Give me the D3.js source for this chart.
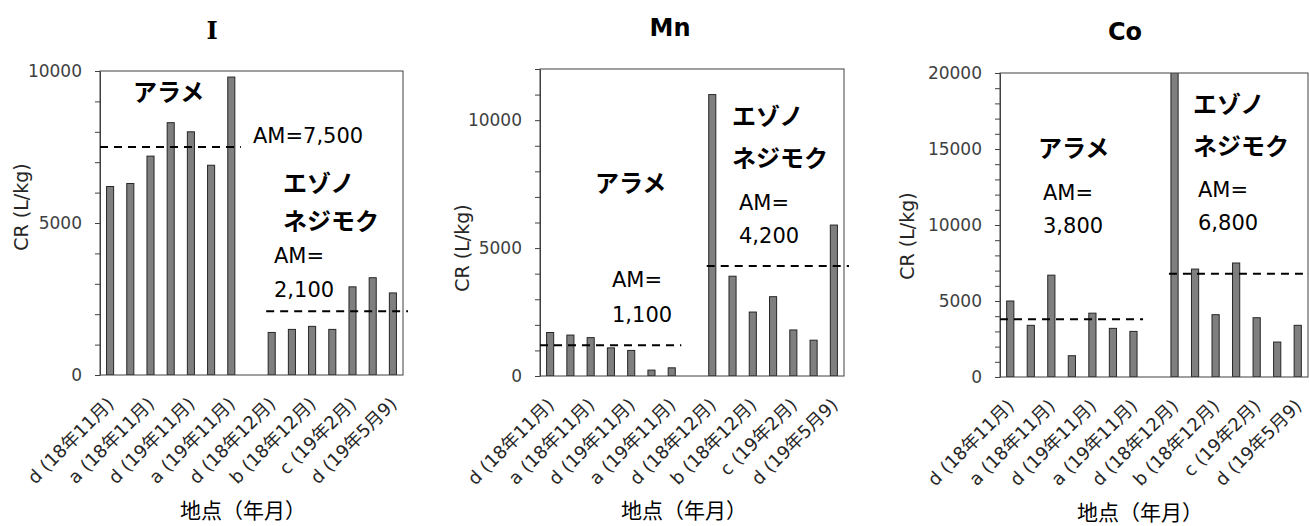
<!DOCTYPE html>
<html>
  <head>
    <meta charset="utf-8"/>
    <title>CR</title>
    <style>
      body { margin: 0; background: #fff; }
      .frame { fill: none; stroke: #404040; stroke-width: 1px; }
      .bar { fill: #7f7f7f; stroke: #262626; stroke-width: 1px; }
      .am { stroke: #000; stroke-width: 2px; stroke-dasharray: 8 6; }
      .yaxis text { font-family: "DejaVu Sans", sans-serif; font-size: 17px; fill: #404040; }
      .yaxis line, .yaxis path { stroke: #404040; }
      .xlab { font-family: "DejaVu Sans", "Noto Sans CJK JP", sans-serif; font-size: 18px; fill: #262626; }
      .note { font-family: "DejaVu Sans", sans-serif; font-size: 21px; fill: #000; }
      .sp { font-family: "Noto Sans CJK JP", sans-serif; font-weight: 700; font-size: 24px; fill: #000; }
    </style>
    <script src="https://d3js.org/d3.v7.min.js"></script>
  </head>
  <body>
    <svg id="chart" width="1309" height="526"></svg>
    <script>
      // 15 slots: 7 x アラメ, one empty gap, 7 x エゾノネジモク
      var slots = d3.range(15);
      var tickLabels = ["d (18年11月)", "a (18年11月)", "d (19年11月)", "a (19年11月)",
                        "d (18年12月)", "b (18年12月)", "c (19年2月)", "d (19年5月9)"];

      var valuesI  = [6200, 6300, 7200, 8300, 8000, 6900, 9800, null, 1400, 1500, 1600, 1500, 2900, 3200, 2700];
      var valuesMn = [1700, 1600, 1500, 1100, 1000, 230, 320, null, 11000, 3900, 2500, 3100, 1800, 1400, 5900];
      var valuesCo = [5000, 3400, 6700, 1400, 4200, 3200, 3000, null, 26000, 7100, 4100, 7500, 3900, 2300, 3400];

      var titles = ["I", "Mn", "Co"];
      var yMaxes = [10000, 12000, 20000];
      var amArame = [7500, 1200, 3800];
      var amEzo = [2100, 4300, 6800];
      var amArameText = [["AM=7,500"], ["AM=", "1,100"], ["AM=", "3,800"]];
      var amEzoText = [["AM=", "2,100"], ["AM=", "4,200"], ["AM=", "6,800"]];

      var svg = d3.select("#chart");

      // layout of each panel (pixels)
      var panels = [
        { values: valuesI, x0: 100, x1: 403, y0: 71, y1: 375, titleX: 212, titleY: 39, serif: true,
          ylabX: 28, ylabY: 207, xtitleX: 243, xtitleY: 518,
          arame: [133, 101], ezo: [283, 192, 230], amA: [253, 143, 0], amE: [274, 263, 297] },
        { values: valuesMn, x0: 540, x1: 844, y0: 69, y1: 376, titleX: 670, titleY: 36,
          ylabX: 469, ylabY: 248, xtitleX: 684, xtitleY: 518,
          arame: [595, 192], ezo: [732, 125, 167], amA: [612, 287, 322], amE: [739, 210, 243] },
        { values: valuesCo, x0: 1000, x1: 1308, y0: 73, y1: 377, titleX: 1125, titleY: 40,
          ylabX: 914, ylabY: 236, xtitleX: 1140, xtitleY: 520,
          arame: [1038, 157], ezo: [1193, 113, 155], amA: [1043, 200, 233], amE: [1198, 197, 230] }
      ];

      panels.forEach(function(p, k) {
        var g = svg.append("g");

        var x = d3.scaleBand().domain(slots).range([p.x0, p.x1])
          .paddingInner(0.65).paddingOuter(0.325);
        var y = d3.scaleLinear().domain([0, yMaxes[k]]).range([p.y1, p.y0]);
        var bw = x.bandwidth();

        g.append("clipPath").attr("id", "clip" + k)
          .append("rect").attr("x", p.x0).attr("y", p.y0)
          .attr("width", p.x1 - p.x0).attr("height", p.y1 - p.y0);

        // y axis, minor ticks every 1000
        g.append("g").attr("class", "yaxis")
          .attr("transform", "translate(" + p.x0 + ",0)")
          .call(d3.axisLeft(y)
            .tickValues(d3.range(0, yMaxes[k] + 1, 1000))
            .tickSize(5).tickSizeOuter(0).tickPadding(13)
            .tickFormat(function(d) { return d % 5000 === 0 ? d : ""; }));

        // bars
        g.append("g").attr("clip-path", "url(#clip" + k + ")")
          .selectAll(".bar")
          .data(slots.filter(function(i) { return p.values[i] != null; }))
          .enter().append("rect")
          .attr("class", "bar")
          .attr("x", function(i) { return x(i); })
          .attr("y", function(i) { return y(p.values[i]); })
          .attr("width", bw)
          .attr("height", function(i) { return p.y1 - y(p.values[i]); });

        g.append("rect").attr("class", "frame")
          .attr("x", p.x0).attr("y", p.y0)
          .attr("width", p.x1 - p.x0).attr("height", p.y1 - p.y0);

        // mean lines
        g.append("line").attr("class", "am")
          .attr("x1", p.x0).attr("x2", x(6) + bw + 6)
          .attr("y1", y(amArame[k])).attr("y2", y(amArame[k]));
        g.append("line").attr("class", "am")
          .attr("x1", x(8) - 2).attr("x2", p.x1 + 5)
          .attr("y1", y(amEzo[k])).attr("y2", y(amEzo[k]));

        // x tick labels on every other slot
        g.selectAll(".xlab")
          .data(tickLabels)
          .enter().append("text")
          .attr("class", "xlab")
          .attr("text-anchor", "end")
          .attr("transform", function(d, j) {
            var cx = x(j * 2) + bw / 2 + 5;
            return "translate(" + cx + "," + (p.y1 + 30) + ") rotate(-45)";
          })
          .text(function(d) { return d; });

        // titles
        g.append("text")
          .attr("x", p.titleX).attr("y", p.titleY)
          .attr("text-anchor", "middle")
          .attr("font-family", p.serif ? "DejaVu Serif" : "DejaVu Sans")
          .attr("font-weight", "bold").attr("font-size", 24)
          .text(titles[k]);

        g.append("text")
          .attr("transform", "translate(" + p.ylabX + "," + p.ylabY + ") rotate(-90)")
          .attr("text-anchor", "middle")
          .attr("font-family", "DejaVu Sans").attr("font-size", 19).attr("fill", "#262626")
          .text("CR (L/kg)");

        g.append("text")
          .attr("x", p.xtitleX).attr("y", p.xtitleY)
          .attr("text-anchor", "middle")
          .attr("font-family", "Noto Sans CJK JP").attr("font-size", 21).attr("fill", "#000")
          .text("地点（年月）");

        // species names
        g.append("text").attr("class", "sp")
          .attr("x", p.arame[0]).attr("y", p.arame[1]).text("アラメ");
        g.append("text").attr("class", "sp")
          .attr("x", p.ezo[0]).attr("y", p.ezo[1]).text("エゾノ");
        g.append("text").attr("class", "sp")
          .attr("x", p.ezo[0]).attr("y", p.ezo[2]).text("ネジモク");

        // AM notes
        amArameText[k].forEach(function(t, j) {
          g.append("text").attr("class", "note")
            .attr("x", p.amA[0]).attr("y", p.amA[1 + j]).text(t);
        });
        amEzoText[k].forEach(function(t, j) {
          g.append("text").attr("class", "note")
            .attr("x", p.amE[0]).attr("y", p.amE[1 + j]).text(t);
        });
      });
    </script>
  </body>
</html>
